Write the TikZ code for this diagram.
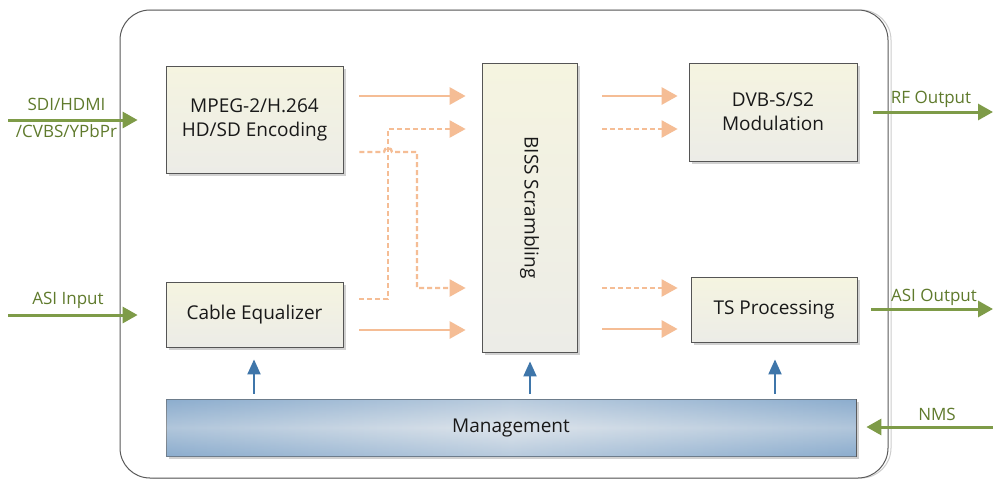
\documentclass[tikz,border=0pt]{standalone}
\usepackage{fontspec}
\setmainfont{Open Sans}
\usetikzlibrary{arrows.meta,shadows,calc}
\definecolor{boxline}{HTML}{555555}
\definecolor{boxtop}{HTML}{F5F4E0}
\definecolor{boxbot}{HTML}{ECECE7}
\definecolor{orng}{HTML}{F5BD95}
\definecolor{grn}{HTML}{7E9B48}
\definecolor{grntext}{HTML}{5F7A2C}
\definecolor{blu}{HTML}{3F76AA}
\definecolor{mgedge}{HTML}{8CADCE}
\definecolor{mgmid}{HTML}{DDE4EB}
\begin{document}
\begin{tikzpicture}[x=1pt,y=-1pt,
  blockbox/.style={draw=boxline,line width=0.8pt,top color=boxtop,bottom color=boxbot,
    drop shadow={shadow xshift=3pt,shadow yshift=-3pt,fill=black!18,opacity=1},
    inner sep=0pt,align=center,font=\fontsize{19}{24}\selectfont,text=black!90},
  mgbox/.style={draw=boxline,line width=0.8pt,shading=axis,left color=mgedge,right color=mgedge,middle color=mgmid,
    drop shadow={shadow xshift=3pt,shadow yshift=-3pt,fill=black!18,opacity=1},
    inner sep=0pt,font=\fontsize{19}{24}\selectfont,text=black!90},
  oarrow/.style={draw=orng,line width=2.8pt,-{Triangle[length=16pt,width=17pt]}},
  odash/.style={oarrow,line width=2.4pt,dash pattern=on 5pt off 3pt},
  garrow/.style={draw=grn,line width=3pt,-{Triangle[length=15pt,width=16pt]}},
  barrow/.style={draw=blu,line width=2pt,-{Triangle[length=15pt,width=13pt]}},
  lbl/.style={text=grntext,font=\fontsize{17}{20}\selectfont,inner sep=0pt}]
\useasboundingbox (0,0) rectangle (993,480);
% outer frame
\draw[black!20,line width=1pt,rounded corners=30pt] (123,10) rectangle (891,478);
\draw[black!65,line width=1pt,rounded corners=30pt,fill=white] (120,10) rectangle (888,478);
% blocks
\node[blockbox,minimum width=177pt,minimum height=107pt] (mpeg) at (254.5,119.5) {MPEG-2/H.264\\HD/SD Encoding};
\node[blockbox,minimum width=177pt,minimum height=65pt] (ceq) at (254.5,314.5) {Cable Equalizer};
\node[blockbox,minimum width=95pt,minimum height=289pt] (biss) at (529.5,207.5) {};
\node[rotate=-90,font=\fontsize{19}{24}\selectfont,text=black!90] (bisst) at (biss.center) {BISS Scrambling};
\node[blockbox,minimum width=168pt,minimum height=98pt] (dvb) at (773,112) {DVB-S/S2\\Modulation};
\node[blockbox,minimum width=166pt,minimum height=65pt] (ts) at (774,309.5) {TS Processing};
\node[mgbox,minimum width=690pt,minimum height=57pt] (mg) at (511,427.5) {};
\shade[top color=mgedge,bottom color=mgedge,middle color=mgmid,fill opacity=0.45]
  ([xshift=0.4pt,yshift=-0.4pt]mg.north west) rectangle ([xshift=-0.4pt,yshift=0.4pt]mg.south east);
\node[font=\fontsize{19}{24}\selectfont,text=black!90] (mgt) at (mg.center) {Management};
% left inputs
\coordinate (sdiin) at (8,120);
\coordinate (asiin) at (8,315);
\draw[garrow] (sdiin) -- ([xshift=-28pt]mpeg.west |- sdiin);
\draw[garrow] (asiin) -- ([xshift=-28pt]ceq.west |- asiin);
\node[lbl] (l1) at (66.5,104) {SDI/HDMI};
\node[lbl] (l2) at (66.5,131) {/CVBS/YPbPr};
\node[lbl] (l3) at (68,300) {ASI Input};
% outputs
\coordinate (rfout) at (993,112);
\coordinate (asiout) at (993,309);
\coordinate (nmsin) at (993,427);
\draw[garrow] ([xshift=16pt]dvb.east |- rfout) -- (rfout);
\draw[garrow] ([xshift=14pt]ts.east |- asiout) -- (asiout);
\draw[garrow] (nmsin) -- ([xshift=10pt]mg.east |- nmsin);
\node[lbl] (l4) at (931,99) {RF Output};
\node[lbl] (l5) at (934,297) {ASI Output};
\node[lbl] (l6) at (937,414) {NMS};
% orange left
\draw[oarrow] ([xshift=16pt]mpeg.east |- 0,96) -- ([xshift=-16pt]biss.west |- 0,96);
\draw[oarrow] ([xshift=16pt]ceq.east |- 0,330) -- ([xshift=-16pt]biss.west |- 0,330);
\draw[odash] ([xshift=16pt]ceq.east |- 0,299) -- (388,299) -- (388,129) -- ([xshift=-16pt]biss.west |- 0,129);
\draw[odash] ([xshift=16pt]mpeg.east |- 0,152) -- (384,152) arc[start angle=180,end angle=0,radius=4pt] -- (417,152) -- (417,288) -- ([xshift=-16pt]biss.west |- 0,288);
% orange right
\draw[oarrow] ([xshift=25pt]biss.east |- 0,96) -- ([xshift=-11pt]dvb.west |- 0,96);
\draw[odash] ([xshift=25pt]biss.east |- 0,129) -- ([xshift=-11pt]dvb.west |- 0,129);
\draw[odash] ([xshift=25pt]biss.east |- 0,288) -- ([xshift=-13pt]ts.west |- 0,288);
\draw[oarrow] ([xshift=25pt]biss.east |- 0,329) -- ([xshift=-13pt]ts.west |- 0,329);
% management arrows
\draw[barrow] (mg.north -| 254,0) ++(0,-5) -- ([yshift=-12pt]ceq.south -| 254,0);
\draw[barrow] (mg.north -| 530,0) ++(0,-5) -- ([yshift=-9pt]biss.south -| 530,0);
\draw[barrow] (mg.north -| 775,0) ++(0,-5) -- ([yshift=-17pt]ts.south -| 775,0);
\end{tikzpicture}
\end{document}
